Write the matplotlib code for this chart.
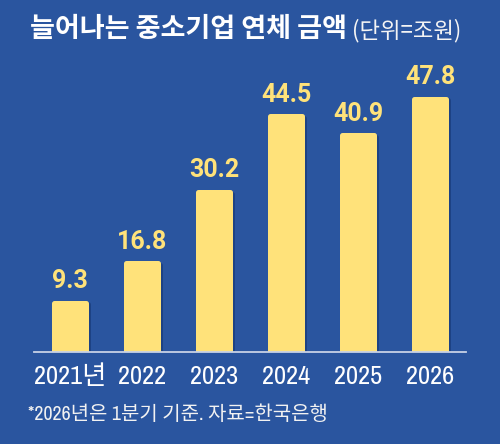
import matplotlib
matplotlib.use('Agg')
import matplotlib.pyplot as plt
from matplotlib import font_manager, patheffects as pe

years = ['2021년', '2022', '2023', '2024', '2025', '2026']
values = [9.3, 16.8, 30.2, 44.5, 40.9, 47.8]
title_main = '늘어나는 중소기업 연체 금액'
title_unit = '(단위=조원)'
footnote = '*2026년은 1분기 기준. 자료=한국은행'

# look for a condensed sans face if any is installed
cond_family, cond_stretch = None, 'normal'
for f in font_manager.fontManager.ttflist:
    st = str(f.stretch)
    if ('Condensed' in f.name or 'Narrow' in f.name) and 'Mono' not in f.name:
        cond_family, cond_stretch = f.name, st
        break
if cond_family is None:
    for f in font_manager.fontManager.ttflist:
        if str(f.stretch) in ('condensed', 'semi-condensed', 'extra-condensed') and 'Mono' not in f.name:
            cond_family, cond_stretch = f.name, str(f.stretch)
            break
if cond_family is None:
    cond_family = 'Roboto'
tick_size = 19 if cond_family != 'Roboto' else 17
KR = 'Noto Sans CJK KR'

BG = '#2a559f'
BAR = '#ffe27a'
W, H = 500, 444

fig = plt.figure(figsize=(W / 100, H / 100), dpi=100, facecolor=BG)
ax = fig.add_axes([34 / W, 92 / H, 432 / W, 292 / H])
ax.set_facecolor(BG)

xs = list(range(len(values)))
bars = ax.bar(xs, values, width=0.458, color=BAR, edgecolor=BAR,
              linewidth=3.6, joinstyle='round', zorder=2)
for b in bars:
    b.set_path_effects([
        pe.Stroke(offset=(1.2, -1.2), linewidth=3.6, foreground='#12306a', alpha=0.5),
        pe.Normal()])

ax.set_xlim(-0.5, 5.5)
ax.set_ylim(0, 292 / 5.3)

for s in ['top', 'left', 'right']:
    ax.spines[s].set_visible(False)
ax.spines['bottom'].set_color('#c8d2e6')
ax.spines['bottom'].set_linewidth(1.3)
ax.spines['bottom'].set_zorder(3)
ax.set_yticks([])
ax.set_xticks(xs, years)
ax.tick_params(axis='x', length=0, pad=23, labelsize=tick_size, labelcolor='white')
for lbl in ax.get_xticklabels():
    lbl.set_family([cond_family, KR])
    lbl.set_stretch(cond_stretch)
    lbl.set_va('baseline')

for i, v in zip(xs, values):
    ax.annotate(f'{v}', xy=(i, v), xytext=(0, 10.4), textcoords='offset points',
                ha='center', va='baseline', fontsize=18, fontweight='bold',
                color=BAR, family='Roboto', zorder=4)

t1 = fig.text(30 / W, (H - 37) / H, title_main, fontsize=19.5, fontweight='bold',
              color='white', family=[KR], va='baseline')
r = fig.canvas.get_renderer()
x1 = t1.get_window_extent(r).x1
fig.text((x1 + 5) / W, (H - 37) / H, title_unit, fontsize=16,
         color='#f4f4f4', family=[KR], va='baseline')

fig.text(28 / W, (H - 420) / H, footnote, fontsize=14.4, color='#f2f2f2',
         family=[cond_family, KR], stretch=cond_stretch, va='baseline')

fig.savefig('out.png', dpi=100, facecolor=BG)
